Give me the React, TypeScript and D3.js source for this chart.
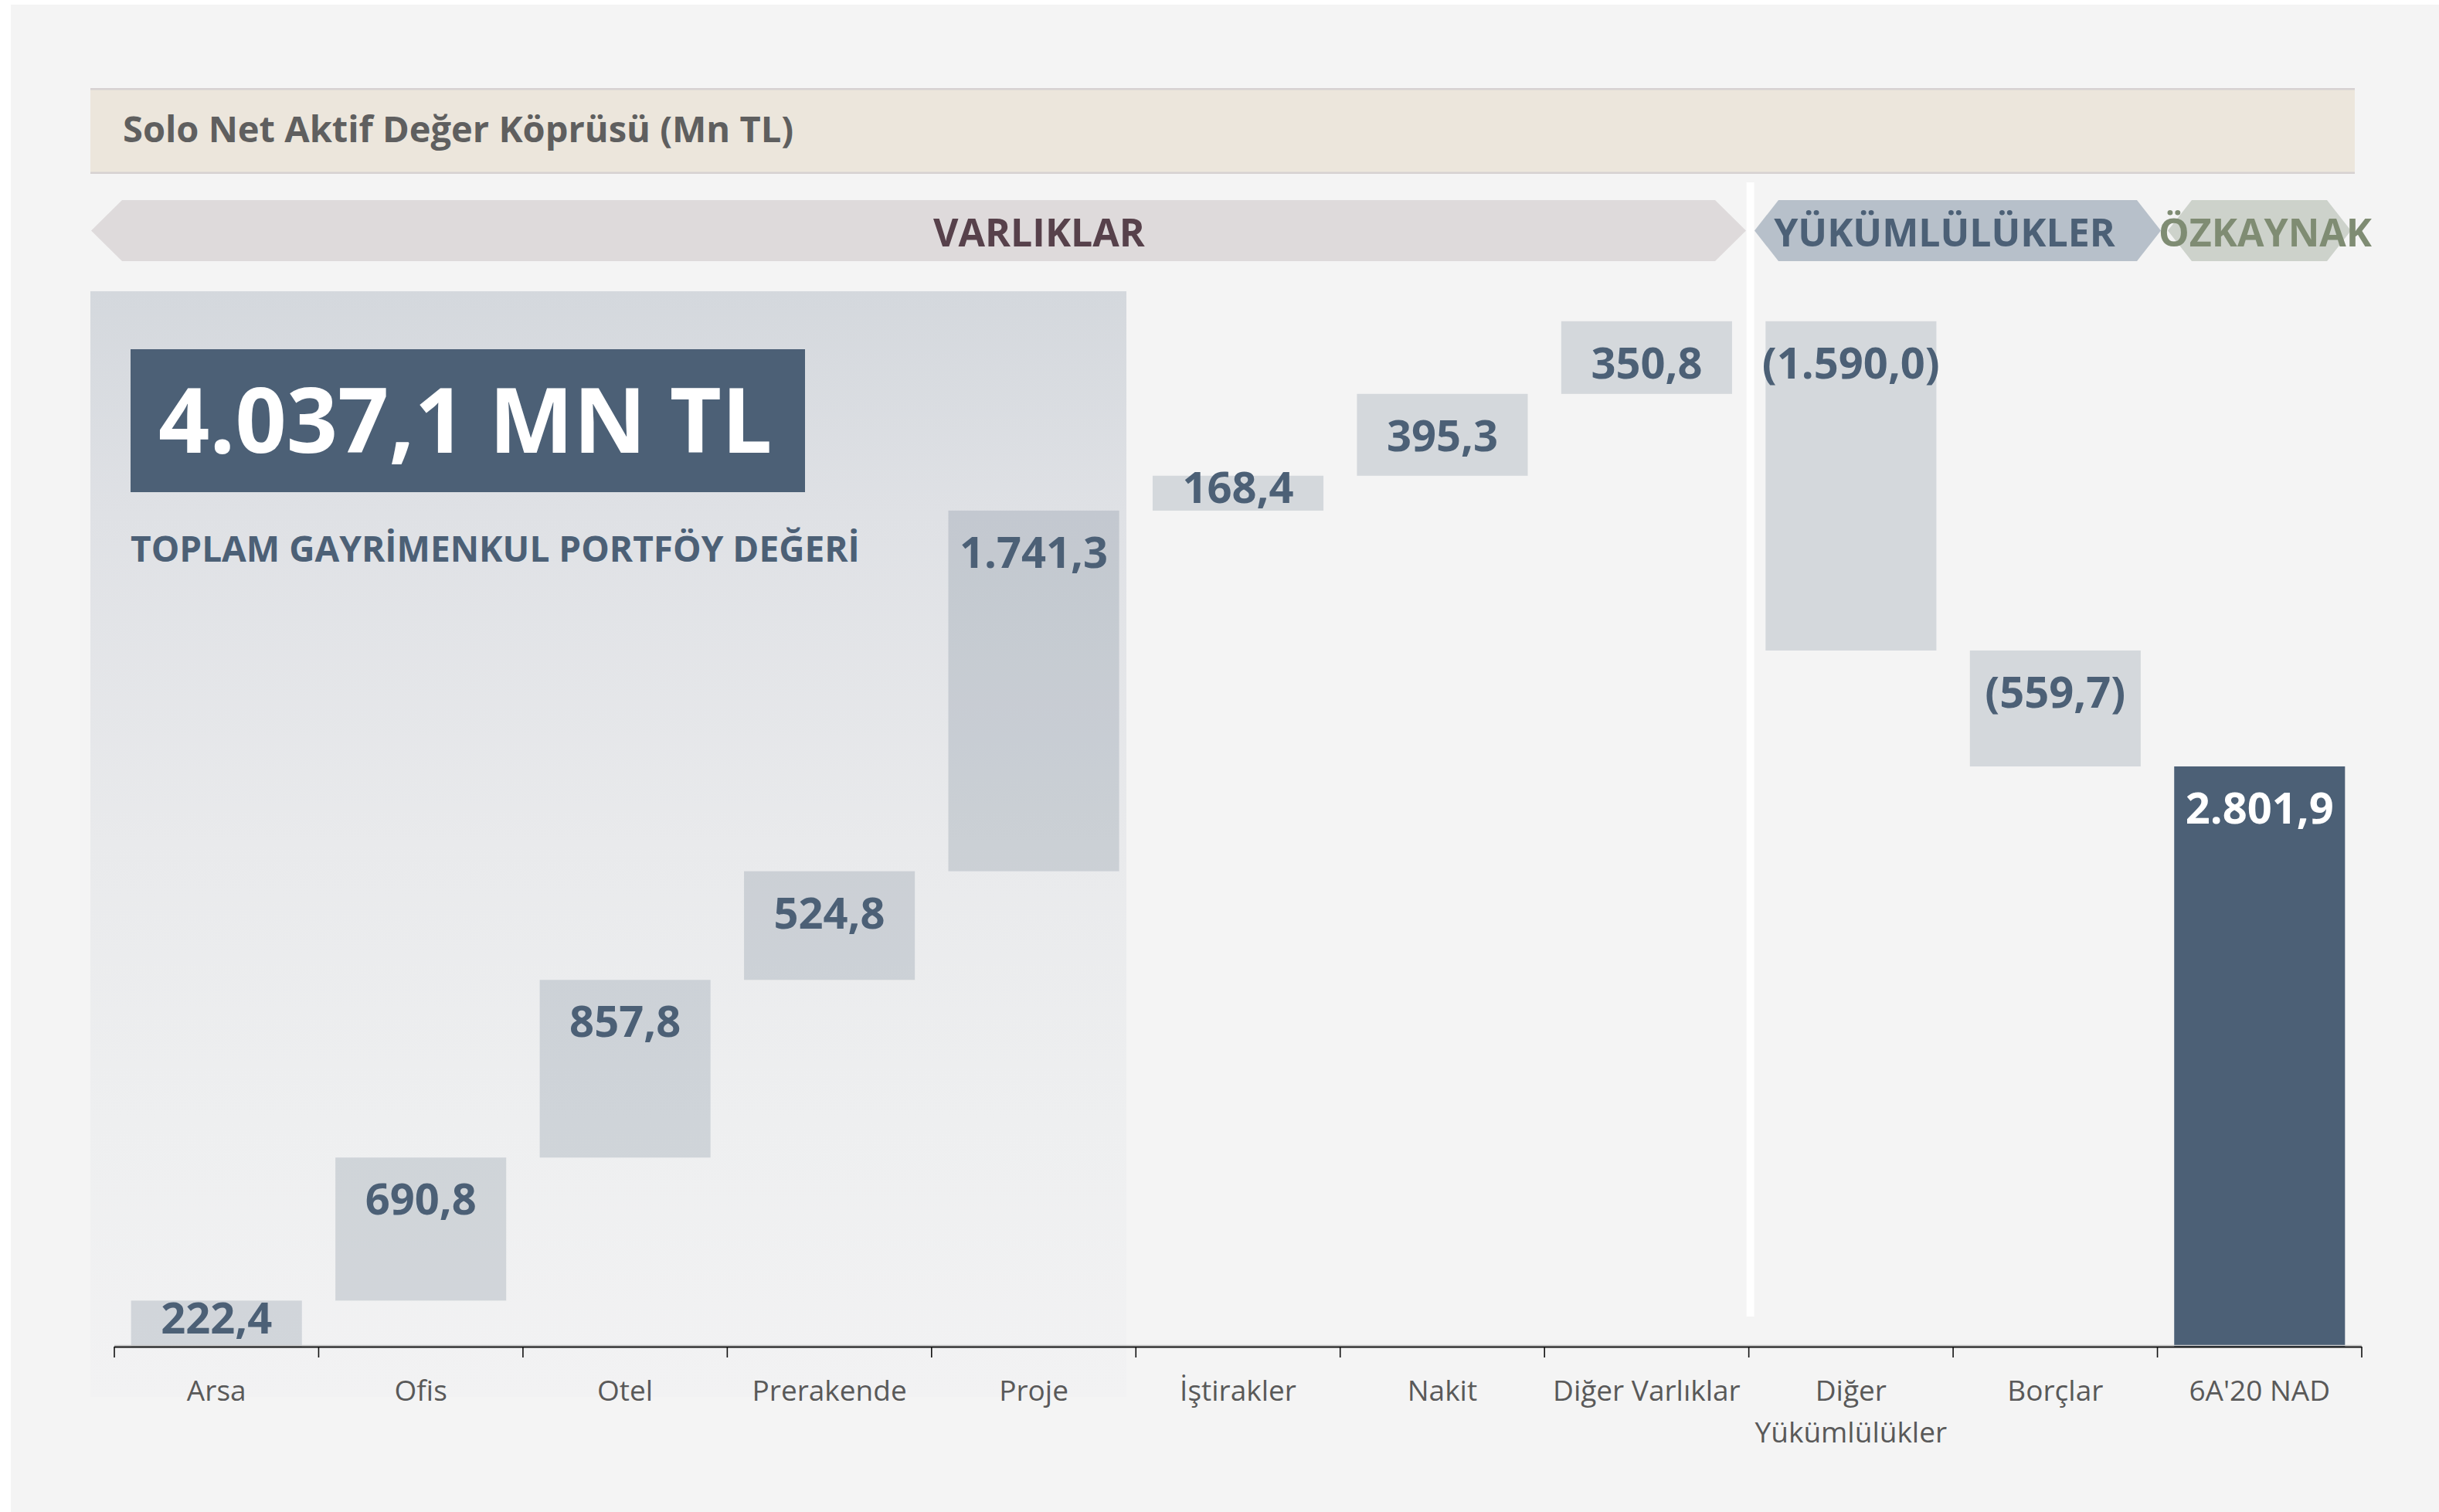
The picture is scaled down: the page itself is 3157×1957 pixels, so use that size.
import React from "react";
import * as d3 from "d3";

const categories = [
  "Arsa",
  "Ofis",
  "Otel",
  "Prerakende",
  "Proje",
  "İştirakler",
  "Nakit",
  "Diğer Varlıklar",
  "Diğer Yükümlülükler",
  "Borçlar",
  "6A'20 NAD",
];
const values = [222.4, 690.8, 857.8, 524.8, 1741.3, 168.4, 395.3, 350.8, -1590.0, -559.7, 2801.9];
const isTotal = [false, false, false, false, false, false, false, false, false, false, true];

const titleText = "Solo Net Aktif Değer Köprüsü (Mn TL)";
const sectionNames = ["VARLIKLAR", "YÜKÜMLÜLÜKLER", "ÖZKAYNAK"];
const highlightValue = "4.037,1 MN TL";
const highlightCaption = "TOPLAM GAYRİMENKUL PORTFÖY DEĞERİ";

const W = 3157;
const H = 1957;
const FONT = "'Open Sans', 'DejaVu Sans', sans-serif";
const SLATE = "#4c6076";

const locale = d3.formatLocale({
  decimal: ",",
  thousands: ".",
  grouping: [3],
  currency: ["", ""],
});
const fmtNum = locale.format(",.1f");
const fmt = (v: number) => (v < 0 ? `(${fmtNum(-v)})` : fmtNum(v));

function measure(text: string, font: string): number {
  if (typeof document === "undefined") return text.length * 18;
  const c = document.createElement("canvas");
  const ctx = c.getContext("2d");
  if (!ctx) return text.length * 18;
  ctx.font = font;
  return ctx.measureText(text).width;
}

function wrapLabel(text: string, maxW: number): string[] {
  const f = `37px ${FONT}`;
  if (measure(text, f) <= maxW) return [text];
  const words = text.split(" ");
  const lines: string[] = [];
  let cur = "";
  words.forEach((w) => {
    const t = cur ? cur + " " + w : w;
    if (cur && measure(t, f) > maxW) {
      lines.push(cur);
      cur = w;
    } else cur = t;
  });
  if (cur) lines.push(cur);
  return lines;
}

export default function App() {
  const x = d3
    .scaleBand<string>()
    .domain(categories)
    .range([148, 3057])
    .paddingInner(0.164)
    .paddingOuter(0.082);
  const y = d3.scaleLinear().domain([0, 5100]).range([1743, 376]);

  // waterfall bars
  let cum = 0;
  const bars = categories.map((c, i) => {
    let start: number, end: number;
    if (isTotal[i]) {
      start = 0;
      end = values[i];
    } else {
      start = cum;
      end = cum + values[i];
    }
    cum = end;
    const top = y(Math.max(start, end));
    const bottom = y(Math.min(start, end));
    return { c, i, v: values[i], top, bottom, total: isTotal[i] };
  });

  const step = x.step();
  const gap = step - x.bandwidth();
  const boundaries = d3.range(categories.length + 1).map((k) => x.range()[0] + k * step);
  const sepX = (x(categories[8]) as number) - gap / 2;
  const axisY = y(0);

  const hexPath = (x0: number, x1: number, y0: number, y1: number, d: number) => {
    const m = (y0 + y1) / 2;
    return `M${x0},${m} L${x0 + d},${y0} L${x1 - d},${y0} L${x1},${m} L${x1 - d},${y1} L${x0 + d},${y1} Z`;
  };

  return (
    <div style={{ position: "absolute", left: 0, top: 0 }}>
      <svg width={W} height={H} style={{ display: "block" }} fontFamily={FONT}>
        <defs>
          <linearGradient id="portfolioGrad" x1="0" y1="0" x2="0" y2="1">
            <stop offset="0" stopColor="#d4d8dd" />
            <stop offset="0.2" stopColor="#dfe1e5" />
            <stop offset="0.5" stopColor="#e9eaec" />
            <stop offset="0.75" stopColor="#eeeff0" />
            <stop offset="1" stopColor="#f2f2f3" />
          </linearGradient>
        </defs>
        <rect x={0} y={0} width={W} height={H} fill="#ffffff" />
        <rect x={14} y={6} width={W - 14} height={H - 6} fill="#f4f4f4" />

        {/* title band */}
        <rect x={117} y={114} width={3048 - 117} height={111} fill="#ece6dc" />
        <line x1={117} x2={3048} y1={115.2} y2={115.2} stroke="#d6d1d1" strokeWidth={2.5} />
        <line x1={117} x2={3048} y1={223.8} y2={223.8} stroke="#d6d1d1" strokeWidth={2.5} />
        <text x={159} y={184} fontSize={47} fontWeight={700} fill="#5f5f5f">
          {titleText}
        </text>

        {/* section bands */}
        <path d={hexPath(118, 2260, 259, 338, 40)} fill="#dedadb" />
        <path d={hexPath(2271, 2797, 259, 338, 31)} fill="#b7c0ca" />
        <path d={hexPath(2806, 3043, 259, 338, 31)} fill="#cdd2cb" />
        <text x={1345} y={319} fontSize={50} fontWeight={700} fill="#57414b" textAnchor="middle">
          {sectionNames[0]}
        </text>
        <text x={2517} y={319} fontSize={50} fontWeight={700} fill={SLATE} textAnchor="middle">
          {sectionNames[1]}
        </text>
        <text x={2932} y={319} fontSize={50} fontWeight={700} fill="#7f8c73" textAnchor="middle">
          {sectionNames[2]}
        </text>

        {/* portfolio shaded area */}
        <rect x={117} y={377} width={1458 - 117} height={1808 - 377} fill="url(#portfolioGrad)" />
        <rect x={169} y={452} width={1042 - 169} height={637 - 452} fill={SLATE} />
        <text x={205} y={586} fontSize={116} fontWeight={700} fill="#ffffff">
          {highlightValue}
        </text>
        <text x={169} y={727} fontSize={46} fontWeight={700} fill={SLATE}>
          {highlightCaption}
        </text>

        {/* separator */}
        <rect x={sepX - 3} y={236} width={10} height={1704 - 236} fill="#ffffff" />

        {/* bars */}
        {bars.map((b) => (
          <rect
            key={b.c}
            x={x(b.c)}
            y={b.top}
            width={x.bandwidth()}
            height={b.bottom - b.top}
            fill={SLATE}
            fillOpacity={b.total ? 1 : 0.19}
          />
        ))}
        {bars.map((b) => {
          const h = b.bottom - b.top;
          const baseline = h > 80 ? b.top + 74 : (b.top + b.bottom) / 2 + 13;
          return (
            <text
              key={"l" + b.c}
              x={(x(b.c) as number) + x.bandwidth() / 2}
              y={baseline}
              fontSize={56}
              fontWeight={700}
              fill={b.total ? "#ffffff" : SLATE}
              textAnchor="middle"
            >
              {fmt(b.v)}
            </text>
          );
        })}

        {/* axis */}
        <line x1={boundaries[0]} x2={boundaries[boundaries.length - 1]} y1={axisY - 1.5} y2={axisY - 1.5} stroke="#c8c8c8" strokeWidth={1.5} />
        <line x1={boundaries[0]} x2={boundaries[boundaries.length - 1]} y1={axisY + 0.5} y2={axisY + 0.5} stroke="#111" strokeWidth={2.2} />
        {boundaries.map((bx, k) => (
          <line key={"t" + k} x1={bx} x2={bx} y1={axisY} y2={axisY + 14} stroke="#111" strokeWidth={1.6} />
        ))}
        {categories.map((c) => {
          const lines = wrapLabel(c, step - 4);
          const cx = (x(c) as number) + x.bandwidth() / 2;
          return (
            <text key={"c" + c} x={cx} y={1813} fontSize={37} fill="#595959" textAnchor="middle">
              {lines.map((ln, j) => (
                <tspan key={j} x={cx} dy={j === 0 ? 0 : 54}>
                  {ln}
                </tspan>
              ))}
            </text>
          );
        })}
      </svg>
    </div>
  );
}
